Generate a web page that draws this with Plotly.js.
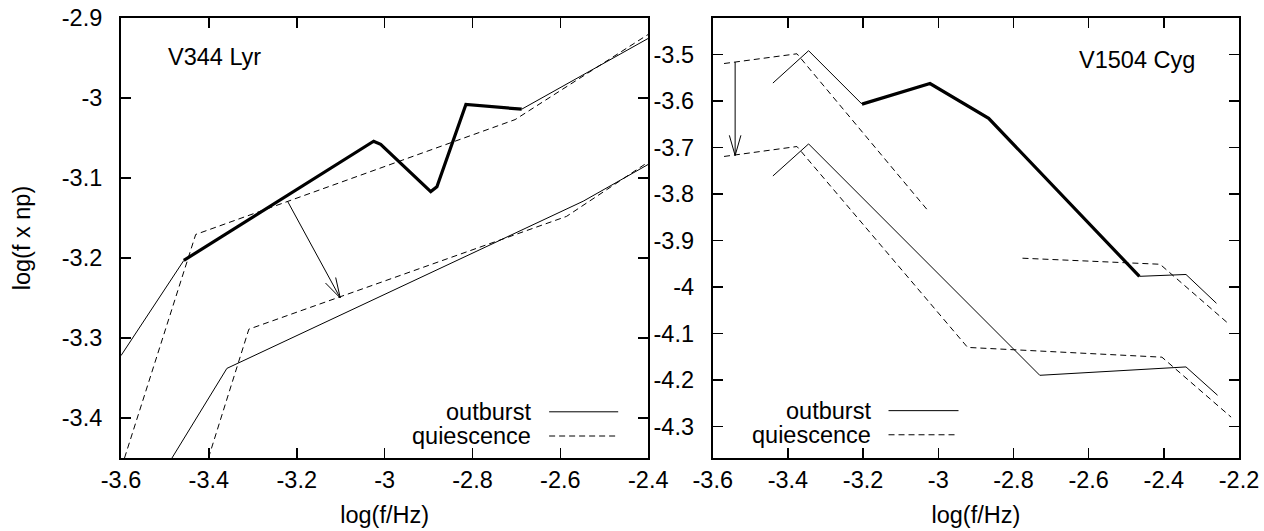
<!DOCTYPE html>
<html>
<head>
<meta charset="utf-8">
<script src="https://cdn.plot.ly/plotly-3.0.1.min.js"></script>
<style>html,body{margin:0;padding:0;background:#fff;}#chart{width:1264px;height:531px;}</style>
</head>
<body>
<div id="chart"></div>
<script>
// ---------- V344 Lyr (left panel) ----------
const lyrOutHiX = [-3.6, -3.457];
const lyrOutHiY = [-3.322, -3.203];
const lyrOutHiBoldX = [-3.457, -3.025, -3.009, -2.895, -2.881, -2.815, -2.688];
const lyrOutHiBoldY = [-3.203, -3.054, -3.058, -3.117, -3.111, -3.008, -3.014];
const lyrOutHiTailX = [-2.688, -2.4];
const lyrOutHiTailY = [-3.014, -2.9255];
const lyrQuiHiX = [-3.592, -3.430, -2.703, -2.4];
const lyrQuiHiY = [-3.45, -3.1706, -3.027, -2.9205];
const lyrOutLoX = [-3.484, -3.359, -2.548, -2.4];
const lyrOutLoY = [-3.45, -3.338, -3.129, -3.083];
const lyrQuiLoX = [-3.401, -3.309, -2.586, -2.4];
const lyrQuiLoY = [-3.45, -3.289, -3.148, -3.080];
const lyrArrowX = [-3.221, -3.101];
const lyrArrowY = [-3.129, -3.250];

// ---------- V1504 Cyg (right panel) ----------
const cygOutHiX = [-3.440, -3.345, -3.203];
const cygOutHiY = [-3.561, -3.4914, -3.6063];
const cygOutHiBoldX = [-3.203, -3.022, -2.866, -2.465];
const cygOutHiBoldY = [-3.6063, -3.562, -3.637, -3.977];
const cygOutHiTailX = [-2.465, -2.341, -2.260];
const cygOutHiTailY = [-3.977, -3.973, -4.035];
const cygQuiHiX = [-3.570, -3.376, -3.025];
const cygQuiHiY = [-3.519, -3.498, -3.838];
const cygQuiMidX = [-2.776, -2.410, -2.225];
const cygQuiMidY = [-3.938, -3.951, -4.081];
const cygOutLoX = [-3.440, -3.345, -2.730, -2.341, -2.257];
const cygOutLoY = [-3.761, -3.692, -4.190, -4.172, -4.233];
const cygQuiLoX = [-3.570, -3.376, -2.922, -2.405, -2.221];
const cygQuiLoY = [-3.719, -3.6976, -4.130, -4.151, -4.280];
const cygArrowX = [-3.5405, -3.5405];
const cygArrowY = [-3.5157, -3.717];

// ---------- ticks ----------
const lyrXTicks = [-3.6, -3.4, -3.2, -3.0, -2.8, -2.6, -2.4];
const lyrXText = ['-3.6', '-3.4', '-3.2', '-3', '-2.8', '-2.6', '-2.4'];
const lyrYTicks = [-3.4, -3.3, -3.2, -3.1, -3.0, -2.9];
const lyrYText = ['-3.4', '-3.3', '-3.2', '-3.1', '-3', '-2.9'];
const cygXTicks = [-3.6, -3.4, -3.2, -3.0, -2.8, -2.6, -2.4, -2.2];
const cygXText = ['-3.6', '-3.4', '-3.2', '-3', '-2.8', '-2.6', '-2.4', '-2.2'];
const cygYTicks = [-4.3, -4.2, -4.1, -4.0, -3.9, -3.8, -3.7, -3.6, -3.5];
const cygYText = ['-4.3', '-4.2', '-4.1', '-4', '-3.9', '-3.8', '-3.7', '-3.6', '-3.5'];

const lyrXRange = [-3.6, -2.4], lyrYRange = [-3.45, -2.9];
const cygXRange = [-3.6, -2.2], cygYRange = [-4.368, -3.421];

// ---------- layout geometry ----------
const W = 1264, H = 531;
const M = {l: 121, r: 25, t: 18, b: 73};
const dom1 = [0, 0.4716], dom2 = [0.5293, 1];
const plotW = W - M.l - M.r, plotH = H - M.t - M.b;

const FONT = 'Liberation Sans, Arial, Helvetica, sans-serif';
const FS = 23.5;

function line(x, y, xa, ya, width, dash) {
  return {x: x, y: y, xaxis: xa, yaxis: ya, type: 'scatter', mode: 'lines',
    line: {color: '#000', width: width, dash: dash || 'solid'},
    hoverinfo: 'skip', showlegend: false};
}

// arrow head computed in pixel space from the arrow's own data points
function arrowHead(ax, ay, xa, ya, dom, xr, yr) {
  const pxX = plotW * (dom[1] - dom[0]) / (xr[1] - xr[0]);
  const pxY = plotH / (yr[1] - yr[0]);
  const dx = (ax[1] - ax[0]) * pxX, dy = (ay[1] - ay[0]) * pxY;
  const L = Math.hypot(dx, dy);
  const ux = -dx / L, uy = -dy / L;
  const len = 21, ang = 16 * Math.PI / 180;
  const hx = [], hy = [];
  [ang, -ang].forEach((a, i) => {
    const rx = ux * Math.cos(a) - uy * Math.sin(a);
    const ry = ux * Math.sin(a) + uy * Math.cos(a);
    const px = ax[1] + rx * len / pxX, py = ay[1] + ry * len / pxY;
    if (i === 0) { hx.push(px, ax[1]); hy.push(py, ay[1]); }
    else { hx.push(px); hy.push(py); }
  });
  return line(hx, hy, xa, ya, 1);
}

const traces = [
  line(lyrOutHiX, lyrOutHiY, 'x', 'y', 1),
  line(lyrOutHiBoldX, lyrOutHiBoldY, 'x', 'y', 3.2),
  line(lyrOutHiTailX, lyrOutHiTailY, 'x', 'y', 1),
  line(lyrQuiHiX, lyrQuiHiY, 'x', 'y', 1, '6px,4px'),
  line(lyrOutLoX, lyrOutLoY, 'x', 'y', 1),
  line(lyrQuiLoX, lyrQuiLoY, 'x', 'y', 1, '6px,4px'),
  line(lyrArrowX, lyrArrowY, 'x', 'y', 1),
  arrowHead(lyrArrowX, lyrArrowY, 'x', 'y', dom1, lyrXRange, lyrYRange),

  line(cygOutHiX, cygOutHiY, 'x2', 'y2', 1),
  line(cygOutHiBoldX, cygOutHiBoldY, 'x2', 'y2', 3.2),
  line(cygOutHiTailX, cygOutHiTailY, 'x2', 'y2', 1),
  line(cygQuiHiX, cygQuiHiY, 'x2', 'y2', 1, '6px,4px'),
  line(cygQuiMidX, cygQuiMidY, 'x2', 'y2', 1, '6px,4px'),
  line(cygOutLoX, cygOutLoY, 'x2', 'y2', 1),
  line(cygQuiLoX, cygQuiLoY, 'x2', 'y2', 1, '6px,4px'),
  line(cygArrowX, cygArrowY, 'x2', 'y2', 1),
  arrowHead(cygArrowX, cygArrowY, 'x2', 'y2', dom2, cygXRange, cygYRange)
];

function axis(extra) {
  return Object.assign({
    showline: true, linecolor: '#000', linewidth: 2, mirror: 'ticks',
    ticks: 'inside', ticklen: 10, tickwidth: 1.5, tickcolor: '#000',
    showgrid: false, zeroline: false, tickmode: 'array', automargin: false,
    tickfont: {family: FONT, size: FS, color: '#000'}
  }, extra);
}

const titleFont = {family: FONT, size: FS, color: '#000'};

function txt(text, xref, yref, x, y, xanchor) {
  return {text: text, xref: xref, yref: yref, x: x, y: y, xanchor: xanchor,
    yanchor: 'middle', showarrow: false, font: {family: FONT, size: FS, color: '#000'}};
}

const legendDash = '6px,4px';
function legLine(xref, yref, x0, x1, y, dash) {
  return {type: 'line', xref: xref, yref: yref, x0: x0, x1: x1, y0: y, y1: y,
    line: {color: '#000', width: 1, dash: dash || 'solid'}};
}

const layout = {
  width: W, height: H, margin: M,
  paper_bgcolor: '#fff', plot_bgcolor: '#fff',
  showlegend: false,
  font: {family: FONT, size: FS, color: '#000'},
  xaxis: axis({domain: dom1, anchor: 'y', range: lyrXRange, tickvals: lyrXTicks, ticktext: lyrXText,
    ticklabelstandoff: 0,
    title: {text: 'log(f/Hz)', font: titleFont, standoff: 14}}),
  yaxis: axis({anchor: 'x', range: lyrYRange, tickvals: lyrYTicks, ticktext: lyrYText,
    ticklabelstandoff: 12,
    title: {text: 'log(f x np)', font: titleFont, standoff: 25}}),
  xaxis2: axis({domain: dom2, anchor: 'y2', range: cygXRange, tickvals: cygXTicks, ticktext: cygXText,
    ticklabelstandoff: 0,
    title: {text: 'log(f/Hz)', font: titleFont, standoff: 14}}),
  yaxis2: axis({anchor: 'x2', range: cygYRange, tickvals: cygYTicks, ticktext: cygYText,
    ticklabelstandoff: 12}),
  annotations: [
    txt('V344 Lyr', 'x domain', 'y domain', 0.086, 0.912, 'left'),
    txt('V1504 Cyg', 'x2 domain', 'y2 domain', 0.92, 0.905, 'right'),
    txt('outburst', 'x domain', 'y domain', 0.781, 0.105, 'right'),
    txt('quiescence', 'x domain', 'y domain', 0.781, 0.050, 'right'),
    txt('outburst', 'x2 domain', 'y2 domain', 0.304, 0.1076, 'right'),
    txt('quiescence', 'x2 domain', 'y2 domain', 0.304, 0.0528, 'right')
  ],
  shapes: [
    legLine('x domain', 'y domain', 0.812, 0.943, 0.105),
    legLine('x domain', 'y domain', 0.812, 0.943, 0.050, legendDash),
    legLine('x2 domain', 'y2 domain', 0.334, 0.467, 0.1076),
    legLine('x2 domain', 'y2 domain', 0.334, 0.467, 0.0528, legendDash)
  ]
};

Plotly.newPlot('chart', traces, layout, {staticPlot: true, displayModeBar: false});
</script>
</body>
</html>
